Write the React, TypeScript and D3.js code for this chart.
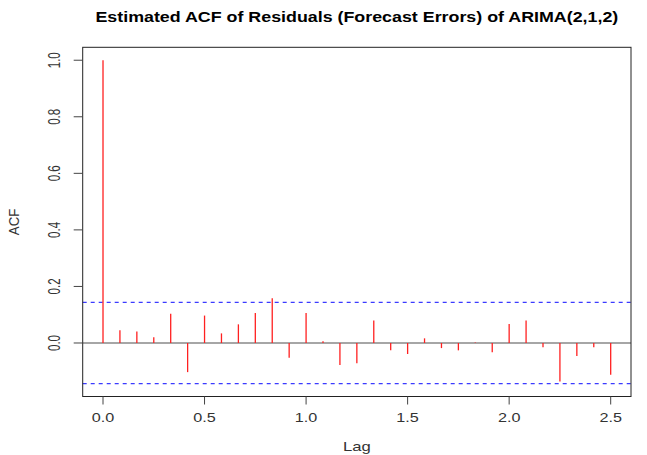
import React from "react";
import * as d3 from "d3";

const lags: number[] = Array.from({ length: 31 }, (_, k) => k / 12);
const acfValues: number[] = [
  1.0, 0.045, 0.041, 0.02, 0.103, -0.103, 0.097, 0.034, 0.066, 0.106, 0.158,
  -0.052, 0.106, 0.006, -0.078, -0.072, 0.08, -0.026, -0.039, 0.0165, -0.018,
  -0.026, 0.002, -0.033, 0.067, 0.08, -0.015, -0.136, -0.046, -0.015, -0.112,
];
const ciValue = 0.1435;
const xTicks = [0, 0.5, 1.0, 1.5, 2.0, 2.5];
const yTicks = [0, 0.2, 0.4, 0.6, 0.8, 1.0];
const title = "Estimated ACF of Residuals (Forecast Errors) of ARIMA(2,1,2)";

export default function App() {
  const W = 647, H = 455;
  const left = 82.7, right = 631, top = 47.3, bottom = 396.5;
  const x = d3.scaleLinear().domain([-0.1, 2.6]).range([left, right]);
  const y = d3.scaleLinear().domain([-0.1892, 1.0457]).range([bottom, top]);
  const font = "Liberation Sans, Arial, sans-serif";
  const tickColor = "#333";
  const cx = (left + right) / 2;
  return (
    <svg width={W} height={H} style={{ position: "absolute", left: 0, top: 0, background: "#fff" }}>
      <rect x={0} y={0} width={W} height={H} fill="#fff" />
      <text transform={`translate(${cx},22) scale(1.19,1)`} textAnchor="middle" fontFamily={font} fontWeight="bold" fontSize={15} fill="#000">
        {title}
      </text>
      {/* zero line */}
      <line x1={left} x2={right} y1={y(0)} y2={y(0)} stroke="#888" strokeWidth={1.3} />
      {/* CI lines */}
      {[ciValue, -ciValue].map((c, i) => (
        <line key={i} x1={left} x2={right} y1={y(c)} y2={y(c)} stroke="#3b3bff" strokeWidth={1.1} strokeDasharray="4,4" />
      ))}
      {/* stems */}
      {lags.map((l, i) => (
        <line key={i} x1={x(l)} x2={x(l)} y1={y(0)} y2={y(acfValues[i])} stroke="#ff2020" strokeWidth={1.3} />
      ))}
      {/* box */}
      <rect x={left} y={top} width={right - left} height={bottom - top} fill="none" stroke="#222" strokeWidth={1} />
      {/* x axis */}
      {xTicks.map((t) => (
        <g key={t}>
          <line x1={x(t)} x2={x(t)} y1={bottom} y2={bottom + 8} stroke="#444" />
          <text transform={`translate(${x(t)},421.5) scale(1.35,1)`} textAnchor="middle" fontFamily={font} fontSize={12} fill={tickColor}>
            {d3.format(".1f")(t)}
          </text>
        </g>
      ))}
      <text transform={`translate(${cx},450.5) scale(1.28,1)`} textAnchor="middle" fontFamily={font} fontSize={13} fill={tickColor}>
        Lag
      </text>
      {/* y axis */}
      {yTicks.map((t) => (
        <g key={t}>
          <line x1={left - 9} x2={left} y1={y(t)} y2={y(t)} stroke="#444" />
          <text transform={`translate(60,${y(t)}) scale(1.45,1) rotate(-90)`} textAnchor="middle" fontFamily={font} fontSize={11.5} fill={tickColor}>
            {d3.format(".1f")(t)}
          </text>
        </g>
      ))}
      <text transform={`translate(19,${(top + bottom) / 2}) scale(1.17,1) rotate(-90)`} textAnchor="middle" fontFamily={font} fontSize={13.3} fill={tickColor}>
        ACF
      </text>
    </svg>
  );
}
